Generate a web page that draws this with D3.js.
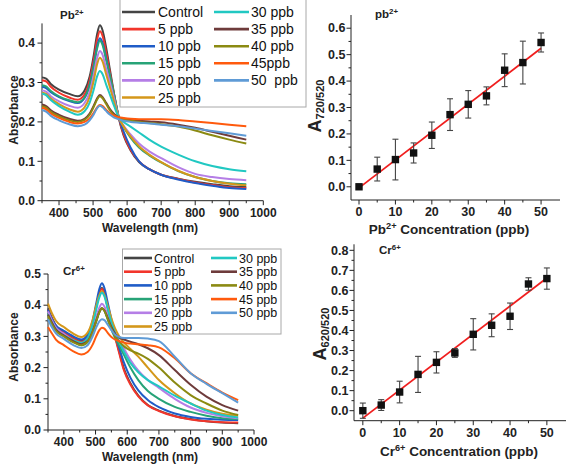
<!DOCTYPE html>
<html><head><meta charset="utf-8">
<script src="https://cdn.jsdelivr.net/npm/d3@7"></script>
<style>
body{margin:0;background:#fff;}
text{font-family:Arial,"Liberation Sans",sans-serif;}
</style></head>
<body><svg id="c" width="567" height="464"></svg>
<script>
// ---------- DATA ----------
const wavelengths = [350,362,375,400,430,455,475,490,502,512,520,528,538,550,562,575,590,610,635,665,700,750,800,850,900,950];

const pbLabels = ["Control","5 ppb","10 ppb","15 ppb","20 ppb","25 ppb","30 ppb","35 ppb","40 ppb","45ppb","50  ppb"];
const crLabels = ["Control","5 ppb","10 ppb","15 ppb","20 ppb","25 ppb","30 ppb","35 ppb","40 ppb","45 ppb","50 ppb"];
const seriesColors = ["#444444","#f2352b","#1f5cc7","#27a377","#b57ee6","#d4971a","#21c8c2","#6e3b3b","#8b8a12","#ff5a0d","#5f9bd6"];

// Pb2+ spectra (absorbance at each wavelength)
const pbControl = [.313,.310,.297,.282,.271,.265,.280,.315,.369,.423,.445,.432,.390,.330,.270,.212,.165,.128,.098,.080,.066,.056,.048,.042,.037,.035];
const pb5  = [.306,.303,.290,.274,.262,.256,.270,.305,.357,.409,.430,.418,.378,.322,.268,.213,.168,.130,.100,.080,.066,.055,.046,.040,.034,.032];
const pb10 = [.289,.286,.276,.263,.253,.248,.261,.294,.343,.392,.412,.400,.363,.313,.262,.213,.175,.135,.100,.080,.066,.054,.045,.038,.032,.030];
const pb15 = [.293,.290,.279,.265,.255,.250,.262,.294,.340,.387,.406,.395,.359,.316,.268,.215,.187,.160,.135,.115,.097,.075,.060,.050,.044,.042];
const pb20 = [.280,.277,.266,.252,.241,.236,.248,.276,.320,.363,.380,.370,.337,.298,.258,.213,.190,.168,.145,.125,.108,.085,.068,.060,.055,.052];
const pb25 = [.274,.271,.260,.245,.232,.226,.237,.264,.305,.347,.363,.353,.322,.286,.250,.212,.188,.163,.138,.117,.098,.076,.060,.050,.043,.039];
const pb30 = [.272,.268,.256,.240,.226,.218,.227,.249,.282,.316,.329,.321,.296,.268,.240,.212,.200,.188,.173,.155,.137,.117,.100,.088,.080,.075];
const pb35 = [.244,.240,.230,.218,.208,.203,.208,.221,.241,.260,.268,.263,.249,.232,.220,.212,.208,.205,.203,.201,.199,.193,.185,.175,.165,.155];
const pb40 = [.240,.236,.226,.214,.204,.200,.205,.218,.238,.257,.265,.260,.246,.229,.217,.210,.206,.203,.200,.197,.194,.188,.178,.166,.155,.145];
const pb45 = [.236,.232,.222,.210,.200,.196,.200,.209,.223,.237,.243,.240,.231,.222,.216,.212,.210,.208,.207,.207,.207,.205,.201,.197,.193,.189];
const pb50 = [.230,.226,.216,.204,.194,.189,.193,.204,.219,.235,.241,.237,.228,.218,.211,.207,.203,.200,.198,.196,.193,.189,.183,.177,.171,.165];

// Cr6+ spectra
const crControl = [.390,.360,.335,.315,.295,.285,.300,.340,.395,.440,.455,.440,.395,.345,.300,.250,.195,.150,.110,.080,.062,.045,.035,.028,.024,.022];
const cr5  = [.385,.357,.333,.313,.293,.283,.298,.338,.393,.438,.452,.438,.393,.342,.296,.245,.190,.146,.108,.079,.061,.044,.034,.028,.025,.024];
const cr10 = [.385,.357,.335,.318,.300,.290,.305,.347,.405,.452,.470,.455,.410,.355,.305,.262,.215,.168,.127,.096,.073,.053,.042,.036,.033,.032];
const cr15 = [.375,.348,.325,.305,.283,.272,.283,.312,.348,.378,.390,.382,.356,.322,.295,.270,.240,.200,.160,.125,.100,.074,.058,.046,.038,.035];
const cr20 = [.380,.352,.328,.308,.287,.277,.289,.320,.360,.392,.405,.396,.368,.335,.308,.285,.260,.225,.190,.160,.135,.100,.072,.055,.044,.038];
const cr25 = [.405,.375,.350,.330,.309,.298,.312,.350,.398,.432,.445,.433,.400,.358,.325,.300,.280,.260,.235,.200,.160,.118,.085,.065,.052,.046];
const cr30 = [.370,.345,.322,.303,.288,.280,.295,.335,.385,.425,.440,.428,.390,.345,.310,.282,.250,.215,.185,.160,.140,.110,.085,.062,.048,.040];
const cr35 = [.370,.345,.322,.303,.285,.275,.285,.314,.350,.378,.390,.383,.360,.330,.308,.296,.290,.283,.275,.262,.240,.192,.145,.107,.080,.062];
const cr40 = [.365,.340,.318,.300,.281,.272,.283,.312,.348,.378,.390,.382,.357,.325,.300,.283,.268,.255,.245,.228,.200,.152,.112,.085,.062,.048];
const cr45 = [.330,.310,.290,.272,.252,.242,.250,.272,.300,.320,.328,.325,.312,.298,.290,.285,.280,.277,.275,.272,.265,.230,.182,.150,.120,.096];
const cr50 = [.355,.330,.310,.292,.272,.263,.272,.298,.328,.348,.355,.352,.338,.320,.305,.298,.295,.295,.295,.293,.285,.235,.182,.148,.118,.088];

// calibration data
const concentrations = [0,5,10,15,20,25,30,35,40,45,50];
const pbRatio = [0.000,0.067,0.103,0.128,0.195,0.273,0.312,0.344,0.441,0.470,0.546];
const pbError = [0.004,0.045,0.077,0.038,0.050,0.060,0.052,0.034,0.062,0.081,0.036];
const pbFitX = [0,50];
const pbFitY = [-0.004,0.524];
const crRatio = [0.000,0.028,0.093,0.181,0.241,0.288,0.381,0.426,0.471,0.632,0.659];
const crError = [0.038,0.027,0.054,0.090,0.053,0.022,0.078,0.057,0.066,0.031,0.053];
const crFitX = [0,50];
const crFitY = [-0.037,0.662];

const pbTicksY = [0,0.1,0.2,0.3,0.4];
const crTicksY = [0,0.1,0.2,0.3,0.4,0.5];
const wlTicks = [400,500,600,700,800,900,1000];
const concTicks = [0,10,20,30,40,50];
const pbRatioTicks = [0,0.1,0.2,0.3,0.4,0.5,0.6];
const crRatioTicks = [0,0.1,0.2,0.3,0.4,0.5,0.6,0.7,0.8];

// ---------- DRAW ----------
const svg = d3.select("#c");

function axes(g, x, y, xt, yt, xMinor, yMinor, fsz, lblGap) {
  const [x0,x1] = x.range(), [y0,y1] = y.range();
  g.append("line").attr("x1",x0).attr("x2",x1).attr("y1",y0).attr("y2",y0).attr("stroke","#222").attr("stroke-width",1);
  g.append("line").attr("x1",x0).attr("x2",x0).attr("y1",y0).attr("y2",y1).attr("stroke","#222").attr("stroke-width",1);
  xMinor.forEach(v=>g.append("line").attr("x1",x(v)).attr("x2",x(v)).attr("y1",y0).attr("y2",y0+2.5).attr("stroke","#222"));
  yMinor.forEach(v=>g.append("line").attr("y1",y(v)).attr("y2",y(v)).attr("x1",x0).attr("x2",x0-2.5).attr("stroke","#222"));
  xt.forEach(v=>{
    g.append("line").attr("x1",x(v)).attr("x2",x(v)).attr("y1",y0).attr("y2",y0+4.5).attr("stroke","#222");
    g.append("text").attr("x",x(v)).attr("y",y0+16).attr("text-anchor","middle")
      .attr("font-size",fsz).attr("font-weight","bold").attr("fill","#222").text(v);
  });
  yt.forEach(v=>{
    g.append("line").attr("y1",y(v)).attr("y2",y(v)).attr("x1",x0).attr("x2",x0-4.5).attr("stroke","#222");
    g.append("text").attr("x",x0-lblGap).attr("y",y(v)+4.2).attr("text-anchor","end")
      .attr("font-size",fsz).attr("font-weight","bold").attr("fill","#222").text(d3.format(".1f")(v));
  });
}

function supText(g, x, y, base, sup, after, fs, anchor) {
  const t = g.append("text").attr("x",x).attr("y",y).attr("font-size",fs).attr("font-weight","bold")
    .attr("fill","#222").attr("text-anchor",anchor||"start");
  t.append("tspan").text(base);
  t.append("tspan").attr("font-size",fs*0.68).attr("dy",-fs*0.38).text(sup);
  if (after) t.append("tspan").attr("dy",fs*0.38).text(after);
  return t;
}

function spectraPanel(cfg) {
  const g = svg.append("g");
  const x = d3.scaleLinear().domain([350,1000]).range(cfg.xr);
  const y = d3.scaleLinear().domain(cfg.yd).range(cfg.yr);
  const xMinor = d3.range(350,1000,100);
  const yMinor = d3.range(0.05, cfg.yd[1], 0.1);
  axes(g, x, y, wlTicks, cfg.yt, xMinor, yMinor, cfg.tickFs, 7);
  const line = d3.line().x((d,i)=>x(wavelengths[i])).y(d=>y(d)).curve(d3.curveMonotoneX);
  cfg.series.forEach((s,i)=>{
    g.append("path").attr("d",line(s)).attr("fill","none").attr("stroke",seriesColors[i])
      .attr("stroke-width",2).attr("stroke-linejoin","round");
  });
  // legend
  const L = cfg.legend;
  g.append("rect").attr("x",L.x).attr("y",L.y).attr("width",L.w).attr("height",L.h)
    .attr("fill","#fff").attr("stroke","#a8a8a8").attr("stroke-width",1);
  cfg.labels.forEach((lab,i)=>{
    const col = i<6?0:1, row = i<6?i:i-6;
    const ly = L.r0 + row*L.dr;
    const lx1 = col? L.c2[0]:L.c1[0], lx2 = col? L.c2[1]:L.c1[1], tx = col? L.c2[2]:L.c1[2];
    g.append("line").attr("x1",lx1).attr("x2",lx2).attr("y1",ly).attr("y2",ly)
      .attr("stroke",seriesColors[i]).attr("stroke-width",2.6);
    g.append("text").attr("x",tx).attr("y",ly+L.fs*0.36).attr("font-size",L.fs).attr("fill","#111")
      .style("white-space","pre").text(lab);
  });
  supText(g, cfg.title[0], cfg.title[1], cfg.title[2], cfg.title[3], "", 11.5);
  g.append("text").attr("x",cfg.xlab[0]).attr("y",cfg.xlab[1]).attr("text-anchor","middle")
    .attr("font-size",12).attr("font-weight","bold").attr("fill","#222").text("Wavelength (nm)");
  g.append("text").attr("transform",`translate(${cfg.ylab[0]},${cfg.ylab[1]}) rotate(-90)`).attr("text-anchor","middle")
    .attr("font-size",12).attr("font-weight","bold").attr("fill","#222").text("Absorbance");
}

spectraPanel({
  xr:[42,263.3], yd:[0,0.45], yr:[200.7,23.4], yt:pbTicksY, tickFs:12,
  series:[pbControl,pb5,pb10,pb15,pb20,pb25,pb30,pb35,pb40,pb45,pb50], labels:pbLabels,
  legend:{x:120,y:-1,w:186,h:108,r0:12,dr:17.1,c1:[122,155,158],c2:[214,249,251],fs:14},
  title:[60,19,"Pb","2+"], xlab:[150,232], ylab:[18,110]
});
spectraPanel({
  xr:[48,254], yd:[0,0.5], yr:[430,274], yt:crTicksY, tickFs:12,
  series:[crControl,cr5,cr10,cr15,cr20,cr25,cr30,cr35,cr40,cr45,cr50], labels:crLabels,
  legend:{x:122.5,y:249,w:158.5,h:85,r0:258,dr:13.7,c1:[124,152,154],c2:[211,237,239],fs:12.5},
  title:[63,275,"Cr","6+"], xlab:[150,461], ylab:[18,347]
});

function calibPanel(cfg) {
  const g = svg.append("g");
  const x = d3.scaleLinear().domain(cfg.xd).range(cfg.xr);
  const y = d3.scaleLinear().domain(cfg.yd).range(cfg.yr);
  axes(g, x, y, concTicks, cfg.yt, d3.range(5,55,10), d3.range(-0.05,cfg.yt[cfg.yt.length-1],0.1).filter(v=>v>-0.04), 12.5, 5.5);
  g.append("line").attr("x1",x(cfg.fx[0])).attr("x2",x(cfg.fx[1])).attr("y1",y(cfg.fy[0])).attr("y2",y(cfg.fy[1]))
    .attr("stroke","#f01e1e").attr("stroke-width",1.8);
  concentrations.forEach((c,i)=>{
    const v = cfg.v[i], e = cfg.e[i];
    const cx = x(c);
    g.append("line").attr("x1",cx).attr("x2",cx).attr("y1",y(v-e)).attr("y2",y(v+e)).attr("stroke","#444").attr("stroke-width",1.1);
    [v-e,v+e].forEach(w=>g.append("line").attr("x1",cx-3).attr("x2",cx+3).attr("y1",y(w)).attr("y2",y(w)).attr("stroke","#444").attr("stroke-width",1.1));
  });
  concentrations.forEach((c,i)=>{
    g.append("rect").attr("x",x(c)-3.7).attr("y",y(cfg.v[i])-3.7).attr("width",7.4).attr("height",7.4).attr("fill","#111");
  });
  supText(g, cfg.title[0], cfg.title[1], cfg.title[2], cfg.title[3], "", 11.5);
  supText(g, cfg.xlab[0], cfg.xlab[1], cfg.xlab[2], cfg.xlab[3], " Concentration (ppb)", 13.5, "middle");
  const t = g.append("text").attr("transform",`translate(${cfg.ylab[0]},${cfg.ylab[1]}) rotate(-90)`)
    .attr("text-anchor","middle").attr("font-weight","bold").attr("fill","#222");
  t.append("tspan").attr("font-size",18).text("A");
  t.append("tspan").attr("font-size",11).attr("dy",3).text(cfg.ylab[2]);
}

calibPanel({
  xd:[-2.2,55.2], xr:[351,560], yd:[-0.05,0.65], yr:[200,15], yt:pbRatioTicks,
  v:pbRatio, e:pbError, fx:pbFitX, fy:pbFitY,
  title:[375,18,"pb","2+"], xlab:[449,234,"Pb","2+"], ylab:[321,106,"720/520"]
});
calibPanel({
  xd:[-2.4,55.2], xr:[354,566], yd:[-0.05,0.83], yr:[420.7,244.3], yt:crRatioTicks,
  v:crRatio, e:crError, fx:crFitX, fy:crFitY,
  title:[379,254,"Cr","6+"], xlab:[459,456,"Cr","6+"], ylab:[326,334,"620/520"]
});
</script></body></html>
